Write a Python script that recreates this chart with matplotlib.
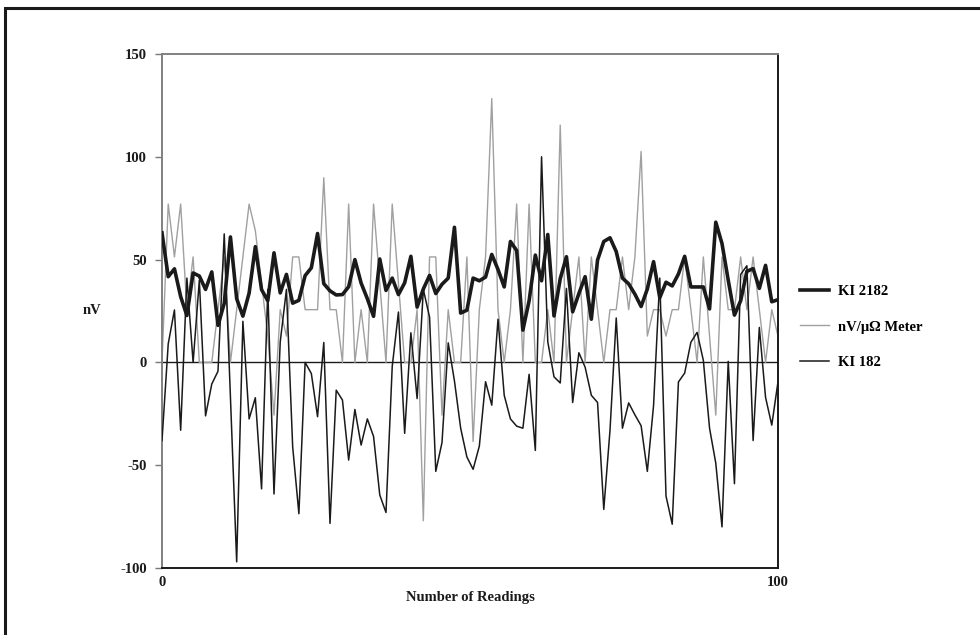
import numpy as np
import matplotlib
matplotlib.use("Agg")
import matplotlib.pyplot as plt
from matplotlib.patches import Rectangle

# readings (nV)
ki2182 = [63, 41.7, 45.5, 32, 22.8, 43.5, 42, 35.5, 44, 18,
          28.7, 61, 31, 22.5, 33.7, 56.3, 35.4, 30, 53.3, 33.8,
          42.8, 28.8, 30.2, 42.2, 46, 62.7, 38.3, 34.8, 32.8, 33,
          36.8, 50, 38.6, 31, 22.4, 50.3, 35, 41, 33, 38.7,
          51.6, 26.9, 35.7, 42.3, 33.5, 38, 41, 65.7, 24, 25.4,
          41, 39.7, 41.5, 52.5, 45.2, 36.7, 58.8, 54.4, 15.7, 30,
          52.2, 39.7, 62.2, 22.6, 40.7, 51.4, 24.6, 33.5, 41.7, 21,
          49.8, 58.8, 60.6, 53.9, 41, 38.2, 33.2, 27.2, 35.7, 49,
          31.5, 39, 37.2, 43, 51.6, 36.7, 36.7, 36.7, 26, 68.2,
          57.8, 40, 23, 30, 44.3, 45.6, 36, 47.2, 29.5, 30.5]

meter = [0, 77, 51.3, 77, 25.65, 51.3, 0, 0, 0, 25.65,
         51.3, 0, 25.65, 51.3, 77, 64.1, 38.5, 12.8, -25.65, 25.65,
         12.8, 51.3, 51.3, 25.65, 25.65, 25.65, 89.8, 25.65, 25.65, 0,
         77, 0, 25.65, 0, 77, 38.5, 0, 77, 38.5, 0,
         0, 25.65, -77, 51.3, 51.3, -25.65, 25.65, 0, 0, 51.3,
         -38.5, 25.65, 51.3, 128.3, 25.65, 0, 25.65, 77, 0, 77,
         0, 0, 25.65, 0, 115.4, 0, 25.65, 51.3, 0, 51.3,
         25.65, 0, 25.65, 25.65, 51.3, 25.65, 51.3, 102.6, 12.8, 25.65,
         25.65, 12.8, 25.65, 25.65, 51.3, 25.65, 0, 51.3, 12.8, -25.65,
         51.3, 25.65, 25.65, 51.3, 25.65, 51.3, 25.65, 0, 25.65, 12.8]

ki182 = [-38, 9, 25.5, -33, 41, 0, 40, -26, -10.5, -4.3,
         62.5, -17, -97, 20, -27.5, -17.2, -61.5, 35.5, -64, 10,
         35.5, -41, -73.6, 0, -5.4, -26.4, 9.7, -78.3, -13.5, -18.3,
         -47.5, -22.9, -40.2, -27.5, -36, -64.5, -73, -2, 24.5, -34.5,
         14.4, -17.6, 35.5, 22, -53, -39, 9.5, -9, -32, -46,
         -52, -40.7, -9.4, -20.8, 21, -16, -27.5, -31, -32, -5.8,
         -42.8, 100, 10, -7, -10, 36, -19.5, 4.7, -2.3, -16,
         -19.5, -71.5, -33, 21.6, -32, -19.7, -25.5, -30.8, -53, -21,
         41, -65, -78.7, -9.5, -5.2, 9.8, 14.6, 1, -32, -49,
         -80, 0.5, -59, 42.8, 47, -38, 17, -17, -30.5, -9.4]

labels = ["KI 2182", "nV/\u03bc\u03a9 Meter", "KI 182"]
yticks = [-100, -50, 0, 50, 100, 150]

x = np.linspace(0, 100, len(ki2182))

plt.rcParams['font.family'] = ['Liberation Serif', 'DejaVu Serif']
plt.rcParams['font.weight'] = 'bold'
plt.rcParams['axes.labelweight'] = 'bold'

fig = plt.figure(figsize=(9.8, 6.35), dpi=100)
ax = fig.add_axes([162/980, 1 - 568/635, 616/980, 514/635])

# outer frame of the picture
fig.patches.append(Rectangle((5/980, -0.05), 1.2, 1 - 8/635 + 0.05,
                             transform=fig.transFigure, fill=False,
                             edgecolor='#1a1a1a', linewidth=2.2))

ax.axhline(0, color='#1a1a1a', lw=1.0, zorder=1)
l2, = ax.plot(x, meter, color='#a0a0a0', lw=1.0, zorder=2)
l3, = ax.plot(x, ki182, color='#1a1a1a', lw=1.1, zorder=3)
l1, = ax.plot(x, ki2182, color='#1a1a1a', lw=2.6, zorder=4)

ax.set_xlim(0, 100)
ax.set_ylim(-100, 150)
ax.set_yticks(yticks)
ax.set_yticklabels([str(v) for v in yticks])
ax.set_xticks([0, 100])
ax.set_xticklabels(["0", "100"])
ax.tick_params(axis='y', direction='out', length=5, width=1, color='#777777',
               labelsize=10.5, labelcolor='#1a1a1a', pad=6)
ax.tick_params(axis='x', length=0, labelsize=10.5, labelcolor='#1a1a1a', pad=6)

for s in ['left', 'top']:
    ax.spines[s].set_color('#808080')
for s in ['right', 'bottom']:
    ax.spines[s].set_color('#1a1a1a')
for s in ax.spines.values():
    s.set_linewidth(1.4)

ax.set_xlabel("Number of Readings", fontsize=10.5, fontweight='bold',
              color='#1a1a1a', labelpad=1)
ax.set_ylabel("nV", fontsize=10.5, fontweight='bold', color='#1a1a1a',
              rotation=0, labelpad=20, va='center')

ax.legend([l1, l2, l3], labels, loc='center left', bbox_to_anchor=(1.036, 0.469),
          frameon=False, fontsize=10.5, handlelength=2.0, handletextpad=0.6,
          labelspacing=1.55, borderpad=0, borderaxespad=0)

fig.savefig("out.png", dpi=100)
